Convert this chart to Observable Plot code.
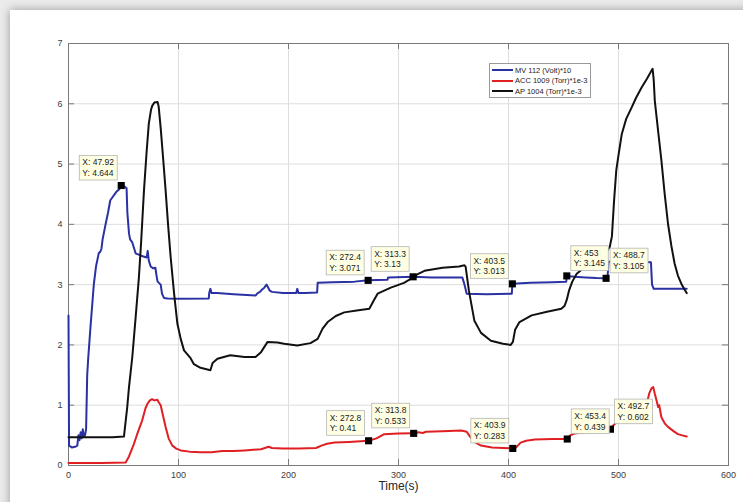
<!DOCTYPE html>
<html><head><meta charset="utf-8">
<script src="https://cdn.jsdelivr.net/npm/d3@7"></script>
<script src="https://cdn.jsdelivr.net/npm/@observablehq/plot@0.6"></script>
<style>
body{margin:0;background:#ebebeb;width:743px;height:502px;overflow:hidden;position:relative;font-family:"Liberation Sans",Arial,sans-serif;}
#panel{position:absolute;left:10px;top:10px;width:770px;height:530px;background:#fff;box-shadow:0 0 9px rgba(0,0,0,0.35);}
#chart{position:absolute;left:0;top:0;}
#legend{position:absolute;left:489px;top:63px;width:100px;height:33px;border:1px solid #9a9a9a;background:#fff;font-size:7.5px;color:#222;}
.row{position:absolute;left:2px;display:flex;align-items:center;height:10px;white-space:nowrap}
.sw{width:21px;height:2px;margin-right:2px}
</style></head><body>
<div id="panel"></div><div id="chart"></div><div id="legend"></div>
<script>
// ---- data ----
const xTicks = [0,100,200,300,400,500,600];
const yTicks = [0,1,2,3,4,5,6,7];

const seriesNames = ["MV 112 (Volt)*10","ACC 1009 (Torr)*1e-3","AP 1004 (Torr)*1e-3"];
const seriesColors = ["#2a31a3","#e01f22","#111111"];

const mvTime = [0,0.5,3,6,8,9,10,11,12,13,14,15,16,17,18,20,23,25,27.5,29,30,31,33.7,36,38,40,42,44,46,47.92,50,52.8,53.5,55,56,58,61,66,71,72,73,74.7,77,79,80,81,83.8,85,86.8,90,100,127.5,128,129,130,135,150,170,172,174,176,178,180,181,183,185,195,207,208,209,215,226,226.5,240,260,272.4,290,290.5,313.3,330,358,360,362,380,403,403.5,420,440,452.5,453,460,470,480,488.7,490,491,500,515,529.5,530.5,532,545,562];
const mvValue = [2.49,0.33,0.30,0.31,0.33,0.5,0.42,0.55,0.45,0.6,0.48,0.5,0.6,1.5,1.8,2.3,3.0,3.3,3.52,3.55,3.6,3.75,4.0,4.2,4.4,4.45,4.5,4.55,4.58,4.644,4.64,4.6,4.2,3.85,3.75,3.7,3.52,3.48,3.45,3.56,3.4,3.3,3.27,3.28,3.15,3.05,3.0,2.85,2.78,2.77,2.765,2.77,2.87,2.93,2.86,2.86,2.84,2.82,2.86,2.88,2.92,2.95,3.0,2.97,2.9,2.88,2.86,2.86,2.93,2.86,2.86,2.87,3.03,3.04,3.05,3.071,3.08,3.12,3.13,3.12,3.12,3.0,2.85,2.84,2.85,3.013,3.03,3.04,3.05,3.145,3.13,3.12,3.11,3.105,3.12,3.38,3.39,3.38,3.37,3.0,2.93,2.93,2.93];

const accTime = [0,30,52,55,59.5,63,67,70,72,74,76,78,80.8,82,83.8,86,88.3,91,94.4,98,102,110,120,130,140,150,160,175,182,185,195,210,225,230,235,242,255,272.8,280,287,300,313.8,318,322,325,340,357,362,365,369,375,385,395,403.9,407,411,416,424,440,450,453.4,456,460,470,480,490,492.7,495,500,510,520,526,528,530,531.6,533,535,536,537,539,542,545,550,554,558,562];
const accValue = [0.04,0.04,0.05,0.15,0.36,0.55,0.75,0.95,1.03,1.08,1.1,1.08,1.09,1.05,1.0,0.82,0.64,0.45,0.33,0.28,0.25,0.23,0.22,0.22,0.24,0.24,0.25,0.27,0.31,0.29,0.28,0.28,0.29,0.33,0.36,0.38,0.39,0.41,0.45,0.52,0.53,0.533,0.55,0.54,0.56,0.57,0.58,0.56,0.48,0.39,0.33,0.3,0.29,0.283,0.3,0.38,0.41,0.43,0.44,0.44,0.439,0.5,0.53,0.55,0.57,0.59,0.602,0.66,0.75,0.85,0.95,1.05,1.2,1.28,1.3,1.19,1.05,0.97,1.0,0.8,0.7,0.64,0.57,0.52,0.5,0.48];

const apTime = [0,20,40,50.4,53.4,55,58,61,64,66,68.6,71,73,75,76.2,78,81,82,83.8,86,88.3,90.5,92.9,96,99,102,105,111,114,120,129,131,135.4,147,160,170,175,181,190,196,208,220,226.5,231,235.6,243,250.7,262,273.5,277,281,293,305,311.5,318,323.6,340,355,360,361,364,369,375,384,395,402,404,406,410,421,435,448,451,453,455,458,462,470,480,488,492,494,496,498,500,503,507,512,516,521,526,530,531,532,533,536,539,542,545,548,551,554,557,560,562];
const apValue = [0.47,0.47,0.47,0.48,0.97,1.3,1.8,2.45,3.12,3.7,4.56,5.2,5.67,5.9,5.97,6.02,6.03,5.95,5.6,5.1,4.56,4.0,3.45,2.85,2.35,2.1,1.91,1.78,1.68,1.62,1.58,1.7,1.77,1.83,1.8,1.8,1.88,2.05,2.04,2.02,1.99,2.03,2.1,2.27,2.38,2.48,2.54,2.57,2.6,2.72,2.85,2.95,3.03,3.1,3.18,3.23,3.28,3.3,3.32,3.3,2.9,2.4,2.2,2.07,2.02,2.0,2.05,2.25,2.38,2.49,2.55,2.6,2.65,2.75,2.9,3.05,3.18,3.3,3.42,3.52,3.62,3.8,4.4,4.9,5.15,5.5,5.75,5.94,6.1,6.27,6.42,6.55,6.58,6.4,6.05,5.55,5.06,4.5,4.01,3.65,3.35,3.15,3.02,2.92,2.86];

// data tips: x, y, side the label box sits on
const tipX = [47.92,272.4,313.3,403.5,453,488.7,272.8,313.8,403.9,453.4,492.7];
const tipY = [4.644,3.071,3.13,3.013,3.145,3.105,0.41,0.533,0.283,0.439,0.602];
const tipSide = ["L","L","L","L","R","R","L","L","L","R","R"];

// ---- build ----
const mv = mvTime.map((t,i)=>({t, v: mvValue[i]}));
const acc = accTime.map((t,i)=>({t, v: accValue[i]}));
const ap = apTime.map((t,i)=>({t, v: apValue[i]}));
const tips = tipX.map((t,i)=>({t, v: tipY[i], side: tipSide[i], label: `X: ${t}\nY: ${tipY[i]}`}));

const axisColor = "#7a7a7a";
const chart = Plot.plot({
  width: 743, height: 502,
  marginLeft: 68, marginRight: 15, marginTop: 43, marginBottom: 37,
  style: {background: "transparent", fontFamily: "Liberation Sans, Arial, sans-serif"},
  x: {domain: [0, 600]},
  y: {domain: [0, 7]},
  marks: [
    Plot.gridX(xTicks, {stroke: "#dedede", strokeOpacity: 1}),
    Plot.gridY(yTicks, {stroke: "#dedede", strokeOpacity: 1}),
    Plot.frame({stroke: axisColor}),
    Plot.ruleX(xTicks, {x: d => d, y1: 0, y2: 0.1, stroke: axisColor}),
    Plot.ruleX(xTicks, {x: d => d, y1: 6.9, y2: 7, stroke: axisColor}),
    Plot.ruleY(yTicks, {y: d => d, x1: 0, x2: 5.5, stroke: axisColor}),
    Plot.ruleY(yTicks, {y: d => d, x1: 594.5, x2: 600, stroke: axisColor}),
    Plot.axisX(xTicks, {tickSize: 0, tickPadding: 6, fontSize: 9, fill: "#3c3c3c", label: null, tickFormat: d => String(d)}),
    Plot.axisY(yTicks, {tickSize: 0, tickPadding: 6, fontSize: 9, fill: "#3c3c3c", label: null, tickFormat: d => String(d)}),
    Plot.text(["Time(s)"], {frameAnchor: "bottom", dy: 24, fontSize: 12, fill: "#262626"}),
    Plot.line(mv, {x: "t", y: "v", stroke: seriesColors[0], strokeWidth: 2}),
    Plot.line(acc, {x: "t", y: "v", stroke: seriesColors[1], strokeWidth: 2}),
    Plot.line(ap, {x: "t", y: "v", stroke: seriesColors[2], strokeWidth: 2}),
    Plot.dot(tips, {x: "t", y: "v", symbol: "square", r: 4, fill: "#000", stroke: null}),
    Plot.text(tips.filter(d => d.side === "L"), {x: "t", y: "v", text: "label", textAnchor: "start", lineAnchor: "bottom", fontSize: 8.5, lineHeight: 1.25, fill: "#1a1a1a", className: "tipL"}),
    Plot.text(tips.filter(d => d.side === "R"), {x: "t", y: "v", text: "label", textAnchor: "start", lineAnchor: "bottom", fontSize: 8.5, lineHeight: 1.25, fill: "#1a1a1a", className: "tipR"})
  ]
});
document.getElementById("chart").append(chart);

// datatip boxes behind the tip texts
const padX = 3, padY = 2, gap = 4, lift = 5.5;
for (const side of ["L", "R"]) {
  chart.querySelectorAll(`g.tip${side} text`).forEach(t => {
    const bb = t.getBBox();
    const w = bb.width + 2 * padX, h = bb.height + 2 * padY;
    const sx = side === "L" ? -gap - w - (bb.x - padX) : gap - (bb.x - padX);
    const sy = -lift - padY - (bb.y + bb.height);
    const tr = (t.getAttribute("transform") || "") + ` translate(${sx},${sy})`;
    t.setAttribute("transform", tr);
    const r = document.createElementNS("http://www.w3.org/2000/svg", "rect");
    r.setAttribute("transform", tr);
    r.setAttribute("x", bb.x - padX); r.setAttribute("y", bb.y - padY);
    r.setAttribute("width", w); r.setAttribute("height", h);
    r.setAttribute("fill", "#ffffe3"); r.setAttribute("stroke", "#b4b4b4"); r.setAttribute("stroke-width", 0.8);
    t.parentNode.insertBefore(r, t);
  });
}

// legend
const lg = document.getElementById("legend");
seriesNames.forEach((n, i) => {
  const row = document.createElement("div");
  row.className = "row";
  row.style.top = (1 + i * 10.7) + "px";
  row.innerHTML = `<div class="sw" style="background:${seriesColors[i]}"></div><span>${n}</span>`;
  lg.append(row);
});
</script></body></html>
